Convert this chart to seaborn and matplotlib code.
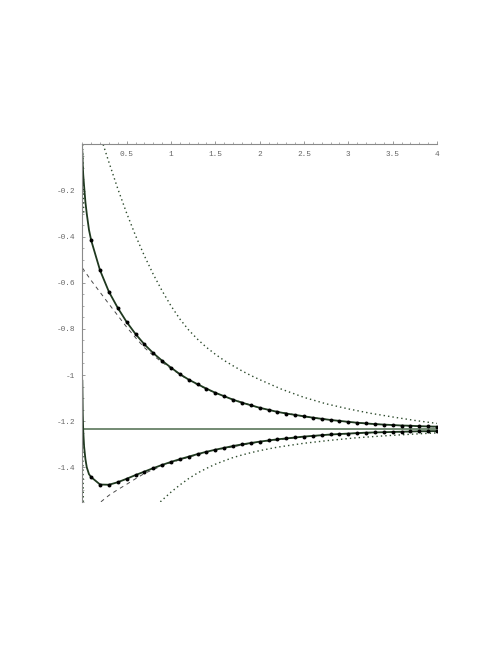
import numpy as np
import pandas as pd
import matplotlib
matplotlib.use("Agg")
import matplotlib.pyplot as plt
import seaborn as sns
from matplotlib.ticker import MultipleLocator, FixedLocator

# x positions of the sampled (dotted) points
x_marks = [0.1, 0.2, 0.3, 0.4, 0.5, 0.6, 0.7, 0.8, 0.9, 1.0,
           1.1, 1.2, 1.3, 1.4, 1.5, 1.6, 1.7, 1.8, 1.9, 2.0,
           2.1, 2.2, 2.3, 2.4, 2.5, 2.6, 2.7, 2.8, 2.9, 3.0,
           3.1, 3.2, 3.3, 3.4, 3.5, 3.6, 3.7, 3.8, 3.9, 4.0]

upper_vals = [-0.416, -0.546, -0.639, -0.709, -0.770, -0.822, -0.867, -0.905, -0.938, -0.968,
              -0.996, -1.020, -1.040, -1.059, -1.077, -1.092, -1.107, -1.120, -1.131, -1.142,
              -1.151, -1.160, -1.167, -1.173, -1.179, -1.185, -1.190, -1.195, -1.199, -1.203,
              -1.207, -1.210, -1.213, -1.215, -1.217, -1.219, -1.220, -1.222, -1.223, -1.224]

lower_vals = [-1.443, -1.475, -1.476, -1.465, -1.450, -1.434, -1.419, -1.404, -1.390, -1.377,
              -1.365, -1.354, -1.343, -1.333, -1.324, -1.316, -1.308, -1.301, -1.295, -1.289,
              -1.284, -1.279, -1.275, -1.271, -1.267, -1.264, -1.261, -1.258, -1.256, -1.254,
              -1.252, -1.250, -1.249, -1.248, -1.247, -1.246, -1.245, -1.244, -1.244, -1.243]

# steep start of the two solid curves near x = 0
near0_x = [0.0, 0.005, 0.01, 0.02, 0.035, 0.05, 0.075]
upper_near0 = [-0.03, -0.09, -0.13, -0.18, -0.25, -0.30, -0.37]
lower_near0 = [-1.022, -1.17, -1.24, -1.31, -1.365, -1.40, -1.43]

# dashed approximations
dash_up_x = [0.0, 0.1, 0.2, 0.3, 0.4, 0.5, 0.6, 0.7, 0.8, 0.9, 1.0, 1.2, 1.4, 1.6, 2.0, 2.5, 3.0, 3.5, 4.0]
dash_up_y = [-0.535, -0.590, -0.641, -0.692, -0.742, -0.792, -0.838, -0.881, -0.915, -0.945,
             -0.972, -1.023, -1.061, -1.093, -1.143, -1.180, -1.204, -1.218, -1.225]
dash_lo_x = [0.21, 0.3, 0.4, 0.5, 0.6, 0.7, 0.8, 0.9, 1.0, 1.2, 1.5, 2.0, 2.5, 3.0, 3.5, 4.0]
dash_lo_y = [-1.55, -1.522, -1.497, -1.474, -1.450, -1.427, -1.410, -1.394, -1.380, -1.356,
             -1.325, -1.290, -1.268, -1.254, -1.247, -1.243]

# dotted bounds
dot_up_x = [0.235, 0.3, 0.4, 0.5, 0.6, 0.7, 0.8, 0.9, 1.0, 1.1, 1.2, 1.3, 1.4, 1.5, 1.6, 1.7,
            1.8, 1.9, 2.0, 2.25, 2.5, 2.75, 3.0, 3.25, 3.5, 3.75, 4.0]
dot_up_y = [0.0, -0.077, -0.192, -0.298, -0.395, -0.483, -0.563, -0.635, -0.700, -0.757,
            -0.805, -0.845, -0.880, -0.910, -0.937, -0.960, -0.982, -1.002, -1.020, -1.062,
            -1.097, -1.125, -1.147, -1.166, -1.182, -1.197, -1.210]
dot_lo_x = [0.88, 1.0, 1.1, 1.2, 1.3, 1.4, 1.5, 1.6, 1.7, 1.8, 1.9, 2.0, 2.2, 2.5, 2.8,
            3.1, 3.4, 3.7, 4.0]
dot_lo_y = [-1.55, -1.508, -1.477, -1.449, -1.425, -1.405, -1.387, -1.372, -1.358, -1.347,
            -1.337, -1.328, -1.313, -1.296, -1.283, -1.272, -1.264, -1.257, -1.251]
dot_up0_x = [0.004, 0.007, 0.011, 0.016]
dot_up0_y = [0.0, -0.1, -0.2, -0.3]
dot_lo0_x = [0.003, 0.006, 0.009, 0.012]
dot_lo0_y = [-1.236, -1.34, -1.45, -1.55]

limit_y = -1.236

x_ticks = [0.5, 1, 1.5, 2, 2.5, 3, 3.5, 4]
x_labels = ["0.5", "1", "1.5", "2", "2.5", "3", "3.5", "4"]
y_ticks = [-0.2, -0.4, -0.6, -0.8, -1.0, -1.2, -1.4]
y_labels = ["-0.2", "-0.4", "-0.6", "-0.8", "-1", "-1.2", "-1.4"]

sns.set_style("white")
plt.rcParams['font.family'] = ['Liberation Mono', 'DejaVu Sans Mono']

fig = plt.figure(figsize=(4.98, 6.45), dpi=100)
ax = fig.add_axes([0.1653, 0.222, 0.7122, 0.554])

green = "#1f381f"
dot_col = "#2c4a2c"

# dotted bounds
for xs, ys in [(dot_up_x, dot_up_y), (dot_lo_x, dot_lo_y), (dot_up0_x, dot_up0_y), (dot_lo0_x, dot_lo0_y)]:
    sns.lineplot(x=xs, y=ys, ax=ax, color=dot_col, lw=1.0, linestyle=(0, (1, 2.2)),
                 estimator=None, sort=False)

# dashed approximations
for xs, ys in [(dash_up_x, dash_up_y), (dash_lo_x, dash_lo_y)]:
    sns.lineplot(x=xs, y=ys, ax=ax, color="#4a4a4a", lw=0.7, linestyle=(0, (4, 4)),
                 estimator=None, sort=False)

# horizontal limit
sns.lineplot(x=[0, 4], y=[limit_y, limit_y], ax=ax, color="#4d6b4d", lw=1.1, estimator=None)

# solid curves
sns.lineplot(x=near0_x + x_marks, y=upper_near0 + upper_vals, ax=ax, color=green, lw=1.3,
             estimator=None, sort=False)
sns.lineplot(x=near0_x + x_marks, y=lower_near0 + lower_vals, ax=ax, color=green, lw=1.3,
             estimator=None, sort=False)

# sampled points
pts = pd.DataFrame({"x": x_marks + x_marks, "y": upper_vals + lower_vals})
sns.scatterplot(data=pts, x="x", y="y", ax=ax, color="black", s=8, linewidth=0, zorder=5)

ax.set_xlim(0, 4)
ax.set_ylim(-1.55, 0)
ax.set_xlabel("")
ax.set_ylabel("")

for side in ["right", "bottom"]:
    ax.spines[side].set_visible(False)
for side in ["left", "top"]:
    ax.spines[side].set_color("#8a8a8a")
    ax.spines[side].set_linewidth(0.8)

ax.xaxis.tick_top()
ax.xaxis.set_major_locator(FixedLocator(x_ticks))
ax.set_xticklabels(x_labels)
ax.xaxis.set_minor_locator(MultipleLocator(0.1))
ax.yaxis.set_major_locator(FixedLocator(y_ticks))
ax.set_yticklabels(y_labels)
ax.yaxis.set_minor_locator(MultipleLocator(0.05))

ax.tick_params(axis="x", which="both", direction="out", colors="#8a8a8a", labelcolor="#666666",
               labelsize=5.6, top=True, bottom=False)
ax.tick_params(axis="x", which="major", length=2.5, width=0.6, pad=-12)
ax.tick_params(axis="x", which="minor", length=1.3, width=0.5)
ax.tick_params(axis="y", which="both", direction="in", colors="#8a8a8a", labelcolor="#666666",
               labelsize=5.6, left=True, right=False)
ax.tick_params(axis="y", which="major", length=2.5, width=0.6, pad=5)
ax.tick_params(axis="y", which="minor", length=1.3, width=0.5)

fig.savefig("out.png", dpi=100)
